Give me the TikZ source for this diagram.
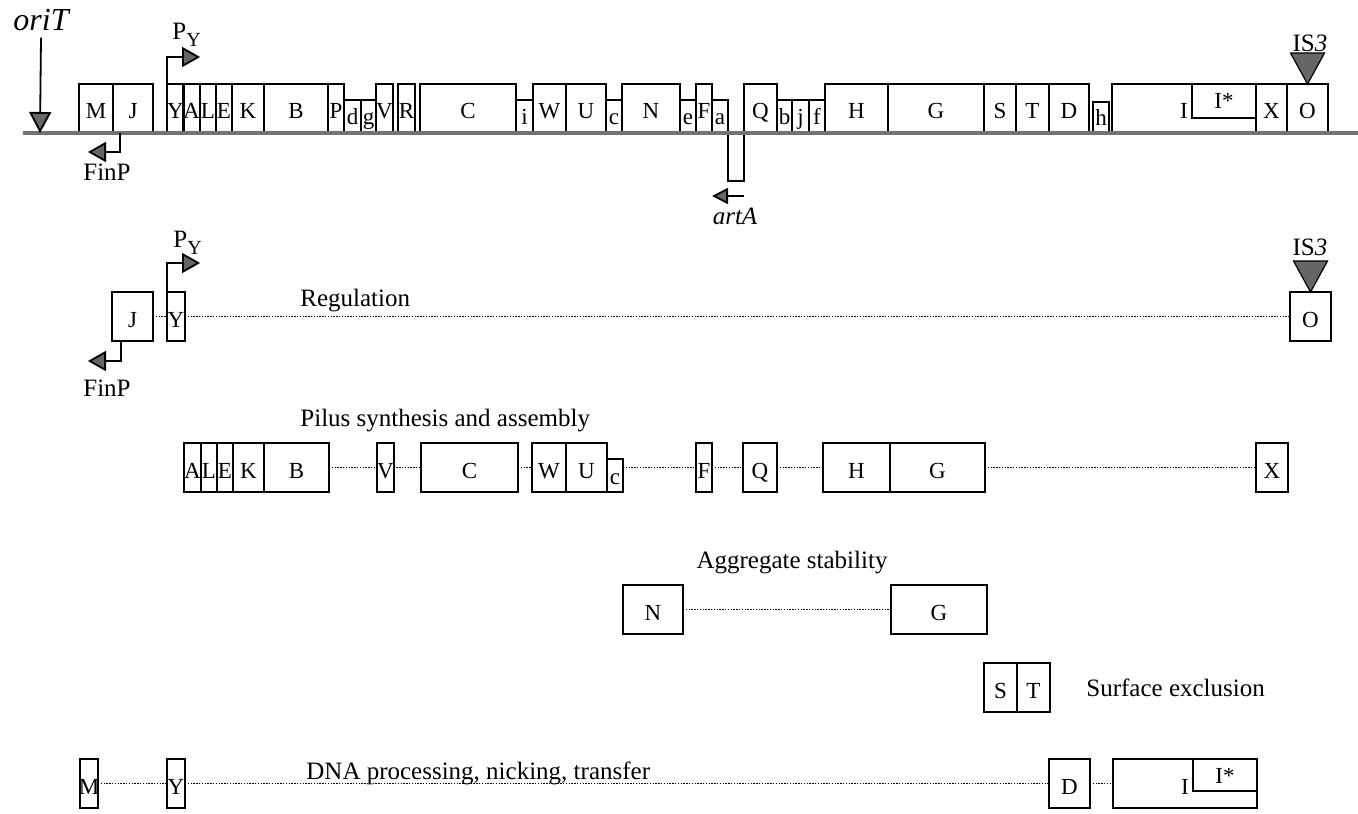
\documentclass[tikz,border=0pt]{standalone}
\usepackage{fontspec}
\setmainfont{Liberation Serif}
\usetikzlibrary{arrows.meta,positioning}
\colorlet{markgray}{black!60}
\colorlet{dnagray}{black!55}
\newcommand{\pyname}{P\raisebox{-3.5pt}{\fontsize{10}{12}\selectfont Y}}
\tikzset{
  gene/.style={draw, rectangle, line width=0.9pt, inner sep=0pt, outer sep=0pt, anchor=south west,
    font=\fontsize{11.5}{13}\selectfont, text height=11pt, text depth=0.5pt, minimum height=24.5pt},
  small/.style={gene, text height=9pt, minimum height=16.5pt},
  subgene/.style={gene, anchor=north east, text height=8pt, text depth=0pt, minimum height=17pt},
  lbl/.style={inner sep=0pt, anchor=base, font=\fontsize{12.5}{15}\selectfont},
  link/.style={line width=0.8pt, dash pattern=on 0.7pt off 0.7pt},
  promoter/.style={line width=0.9pt, -{Triangle[length=9pt,width=10pt,fill=markgray]}},
  insertmark/.style={line width=0.6pt, fill=markgray},
  dnaline/.style={dnagray, line width=1.6pt},
}
\begin{document}
\begin{tikzpicture}[x=0.5pt,y=-0.5pt]
\useasboundingbox (0,0) rectangle (1358,813);
% gene map
\coordinate (lineL) at (23,133);
\coordinate (lineR) at (1358,133);
\node[gene, minimum width=17pt] (mM) at (79,133) {M};
\node[gene, minimum width=20pt] (mJ) at (113,133) {J};
\node[gene, minimum width=8pt] (mY) at (167,133) {Y};
\node[gene, minimum width=8.5pt] (mA) at (183,133) {A};
\node[gene, minimum width=8pt] (mL) at (200,133) {L};
\node[gene, minimum width=8pt] (mE) at (216,133) {E};
\node[gene, minimum width=16pt] (mK) at (232,133) {K};
\node[gene, minimum width=32pt] (mB) at (264,133) {B};
\node[gene, minimum width=8pt] (mP) at (328,133) {P};
\node[small, minimum width=8.5pt] (md) at (344,133) {d};
\node[small, minimum width=7.5pt] (mg) at (361,133) {g};
\node[gene, minimum width=8.5pt] (mV) at (376,133) {V};
\node[gene, minimum width=8.5pt] (mR) at (398,133) {R};
\node[gene, minimum width=48pt] (mC) at (420,133) {C};
\node[small, minimum width=8.5pt] (mi) at (516,133) {i};
\node[gene, minimum width=16.5pt] (mW) at (533,133) {W};
\node[gene, minimum width=20pt] (mU) at (566,133) {U};
\node[small, minimum width=8pt] (mc) at (606,133) {c};
\node[gene, minimum width=29pt] (mN) at (622,133) {N};
\node[small, minimum width=8pt] (me) at (680,133) {e};
\node[gene, minimum width=8pt] (mF) at (696,133) {F};
\node[small, minimum width=8pt] (ma) at (712,133) {a};
\node[gene, anchor=north west, minimum width=8pt, minimum height=24pt] (mArtA) at (728,133) {};
\node[gene, minimum width=16.5pt] (mQ) at (744,133) {Q};
\node[small, minimum width=7.5pt] (mb) at (777,133) {b};
\node[small, minimum width=8.5pt] (mj) at (792,133) {j};
\node[small, minimum width=8pt] (mf) at (809,133) {f};
\node[gene, minimum width=31.5pt] (mH) at (825,133) {H};
\node[gene, minimum width=48pt] (mG) at (888,133) {G};
\node[gene, minimum width=16pt] (mS) at (984,133) {S};
\node[gene, minimum width=16.5pt] (mT) at (1016,133) {T};
\node[gene, minimum width=20pt] (mD) at (1049,133) {D};
\node[small, minimum width=8pt, minimum height=15.5pt] (mh) at (1093,133) {h};
\node[gene, minimum width=72pt] (mI) at (1112,133) {I};
\node[subgene, minimum width=32pt] (mIs) at (mI.north east) {I*};
\node[gene, minimum width=15.5pt] (mX) at (1256,133) {X};
\node[gene, minimum width=20.5pt] (mO) at (1287,133) {O};
\draw[dnaline] (lineL) -- (lineR);
\node[lbl, font=\fontsize{16}{18}\selectfont\itshape] (oriT) at (41,31) {oriT};
\coordinate (oriTip) at (40,133);
\draw[promoter, -{Triangle[length=10.5pt,width=11pt,fill=markgray]}] ([yshift=-3pt]oriT.south) -- (oriTip);
\node[lbl, anchor=base west] (mPY) at (172,40) {\pyname};
\coordinate (pyTop) at (200,57);
\draw[promoter] (mY.north west) |- (pyTop);
\node[lbl] (mFinP) at (107,180) {FinP};
\coordinate (finpTop) at (88,152);
\draw[promoter] ([xshift=3.5pt]mJ.south west) |- (finpTop);
\node[lbl] (mIS) at (1310,52) {IS\textit{3}};
\draw[insertmark] (mO.north) -- ++(-17,-31) -- ++(34,0) -- cycle;
\coordinate (artTip) at (712,196);
\draw[promoter, -{Triangle[length=8pt,width=8pt,fill=markgray]}] ([yshift=-7.5pt]mArtA.south east) -- (artTip);
\node[lbl, font=\fontsize{12.5}{15}\selectfont\itshape] (artA) at (735,224) {artA};
% regulation
\node[gene, minimum width=20.5pt] (rJ) at (112,341) {J};
\node[gene, minimum width=9pt] (rY) at (167,341) {Y};
\node[gene, minimum width=20.5pt] (rO) at (1290,341) {O};
\node[lbl, anchor=base west] (reg) at (300,306) {Regulation};
\draw[link] (rJ) -- (rY);
\draw[link] (rY) -- (rO);
\node[lbl, anchor=base west] (rPY) at (173,247) {\pyname};
\coordinate (pyReg) at (200,263);
\draw[promoter] (rY.north west) |- (pyReg);
\node[lbl] (rFinP) at (107,396) {FinP};
\coordinate (finpReg) at (88,361);
\draw[promoter] ([xshift=4.5pt]rJ.south west) |- (finpReg);
\node[lbl] (rIS) at (1310,255) {IS\textit{3}};
\draw[insertmark] (rO.north) -- ++(-17,-31) -- ++(34,0) -- cycle;
% pilus synthesis and assembly
\node[lbl, anchor=base west] (pilus) at (300,426) {Pilus synthesis and assembly};
\node[gene, minimum width=8.5pt] (pA) at (184,492) {A};
\node[gene, minimum width=8pt] (pL) at (201,492) {L};
\node[gene, minimum width=8pt] (pE) at (217,492) {E};
\node[gene, minimum width=15.5pt] (pK) at (233,492) {K};
\node[gene, minimum width=32.5pt] (pB) at (264,492) {B};
\node[gene, minimum width=8pt] (pV) at (377,492) {V};
\node[gene, minimum width=48.5pt] (pC) at (421,492) {C};
\node[gene, minimum width=17pt] (pW) at (532,492) {W};
\node[gene, minimum width=20.5pt] (pU) at (566,492) {U};
\node[small, minimum width=8pt] (pc) at (607,492) {c};
\node[gene, minimum width=8pt] (pF) at (696,492) {F};
\node[gene, minimum width=17pt] (pQ) at (743,492) {Q};
\node[gene, minimum width=33.5pt] (pH) at (823,492) {H};
\node[gene, minimum width=47.5pt] (pG) at (890,492) {G};
\node[gene, minimum width=16pt] (pX) at (1256,492) {X};
\draw[link] (pB) -- (pV);
\draw[link] (pV) -- (pC);
\draw[link] (pC) -- (pW);
\draw[link] (pc.east |- pF.west) -- (pF.west);
\draw[link] (pF) -- (pQ);
\draw[link] (pQ) -- (pH);
\draw[link] (pG) -- (pX);
% aggregate stability
\node[lbl] (aggr) at (792,568) {Aggregate stability};
\node[gene, minimum width=30pt] (aN) at (623,634) {N};
\node[gene, minimum width=48pt] (aG) at (891,634) {G};
\draw[link] (aN) -- (aG);
% surface exclusion
\node[gene, minimum width=16.5pt] (sS) at (984,712) {S};
\node[gene, minimum width=16.5pt] (sT) at (1017,712) {T};
\node[lbl, anchor=base west] (surf) at (1086,696) {Surface exclusion};
% DNA processing
\node[gene, minimum width=9pt] (dM) at (80,808) {\makebox[0pt]{M}};
\node[gene, minimum width=9pt] (dY) at (167,808) {Y};
\node[gene, minimum width=20.5pt] (dD) at (1049,808) {D};
\node[gene, minimum width=72pt] (dI) at (1113,808) {I};
\node[subgene, minimum width=32pt, minimum height=16pt] (dIs) at (dI.north east) {I*};
\node[lbl, anchor=base west] (dna) at (306,779) {DNA processing, nicking, transfer};
\draw[link] (dM) -- (dY);
\draw[link] (dY) -- (dD);
\draw[link] (dD) -- (dI);
\end{tikzpicture}
\end{document}
